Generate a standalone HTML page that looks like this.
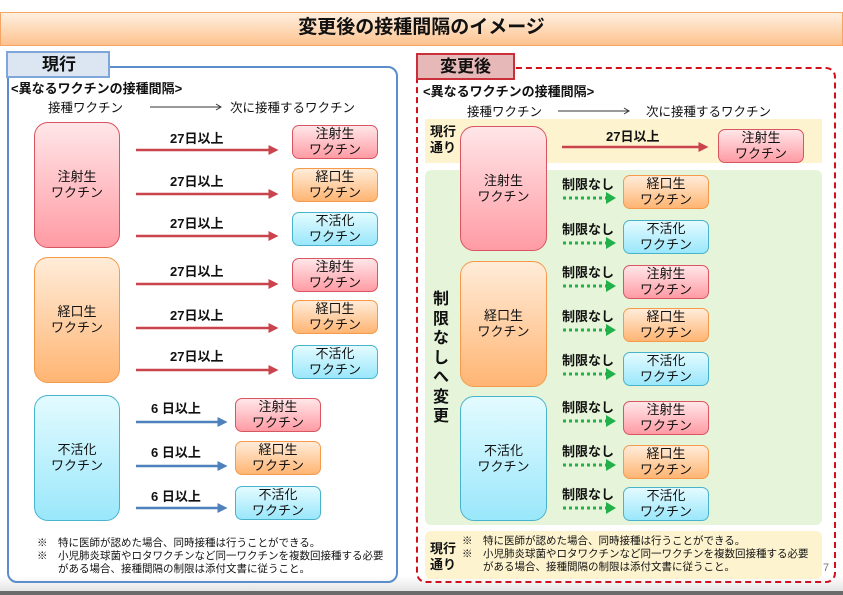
<!DOCTYPE html>
<html><head><meta charset="utf-8"><style>
*{margin:0;padding:0;box-sizing:border-box}
body{width:843px;height:595px;overflow:hidden;background:#fff;position:relative;font-family:"Liberation Sans","Noto Sans CJK JP",sans-serif;color:#111}
.a{position:absolute}
.b{position:absolute;display:flex;align-items:center;justify-content:center;text-align:center;font-size:13px;line-height:16px;border-radius:7px;border:1px solid}
.big{border-radius:14px}
.pk{background:linear-gradient(#ffe6e8,#ff9ba4);border-color:#d9555f}
.or{background:linear-gradient(#ffecd9,#ffb573);border-color:#f59a4a}
.bl{background:linear-gradient(#e3fbff,#9ae7fb);border-color:#4ab3cc}
.lb{position:absolute;font-weight:bold;font-size:13px;line-height:15px;white-space:nowrap}
.t{position:absolute;font-size:12px;white-space:nowrap}
</style></head><body>
<div class="a" style="left:0;top:576px;width:843px;height:15px;background:linear-gradient(#fff,#e4e4e4)"></div>
<div class="a" style="left:0;top:591px;width:843px;height:4px;background:#6b6b6b"></div>
<div class="a" style="left:0;top:12px;width:843px;height:34px;background:linear-gradient(#fff0e0,#fdc28e);border:1px solid #f5a463"></div>
<div class="a" style="left:0;top:14px;width:843px;text-align:center;font-size:19px;font-weight:bold;line-height:28px">変更後の接種間隔のイメージ</div>

<!-- left panel -->
<div class="a" style="left:7px;top:66px;width:391px;height:517px;border:2px solid #5b8ccc;border-radius:10px"></div>
<div class="a" style="left:6px;top:51px;width:104px;height:27px;background:#dce6f2;border:2px solid #7ea6d8;font-size:17px;font-weight:bold;line-height:23px;padding-left:34px">現行</div>
<div class="lb" style="left:11px;top:81px">&lt;異なるワクチンの接種間隔&gt;</div>
<div class="t" style="left:48px;top:97px;font-size:12.5px">接種ワクチン</div>
<div class="t" style="left:230px;top:97px;font-size:12.5px">次に接種するワクチン</div>

<div class="b pk big" style="left:34px;top:122px;width:86px;height:126px">注射生<br>ワクチン</div>
<div class="b or big" style="left:34px;top:257px;width:86px;height:126px">経口生<br>ワクチン</div>
<div class="b bl big" style="left:34px;top:395px;width:86px;height:126px">不活化<br>ワクチン</div>

<div class="b pk" style="left:292px;top:125px;width:86px;height:34px">注射生<br>ワクチン</div>
<div class="b or" style="left:292px;top:168px;width:86px;height:34px">経口生<br>ワクチン</div>
<div class="b bl" style="left:292px;top:212px;width:86px;height:34px">不活化<br>ワクチン</div>
<div class="b pk" style="left:292px;top:258px;width:86px;height:34px">注射生<br>ワクチン</div>
<div class="b or" style="left:292px;top:300px;width:86px;height:34px">経口生<br>ワクチン</div>
<div class="b bl" style="left:292px;top:345px;width:86px;height:34px">不活化<br>ワクチン</div>
<div class="b pk" style="left:235px;top:398px;width:86px;height:34px">注射生<br>ワクチン</div>
<div class="b or" style="left:235px;top:441px;width:86px;height:34px">経口生<br>ワクチン</div>
<div class="b bl" style="left:235px;top:486px;width:86px;height:34px">不活化<br>ワクチン</div>

<div class="lb" style="left:170px;top:131px">27日以上</div>
<div class="lb" style="left:170px;top:174px">27日以上</div>
<div class="lb" style="left:170px;top:216px">27日以上</div>
<div class="lb" style="left:170px;top:264px">27日以上</div>
<div class="lb" style="left:170px;top:308px">27日以上</div>
<div class="lb" style="left:170px;top:349px">27日以上</div>
<div class="lb" style="left:151px;top:401px">6 日以上</div>
<div class="lb" style="left:151px;top:445px">6 日以上</div>
<div class="lb" style="left:151px;top:489px">6 日以上</div>

<div class="t" style="left:37px;top:537px;font-size:10.5px;line-height:13px">※　特に医師が認めた場合、同時接種は行うことができる。<br>※　小児肺炎球菌やロタワクチンなど同一ワクチンを複数回接種する必要<br>　　がある場合、接種間隔の制限は添付文書に従うこと。</div>

<!-- right panel -->
<div class="a" style="left:416px;top:67px;width:420px;height:516px;border:2px dashed #d0101a;border-radius:10px"></div>
<div class="a" style="left:425px;top:119px;width:397px;height:44px;background:#fdf3cf"></div>
<div class="a" style="left:425px;top:170px;width:397px;height:355px;background:#e6f5d9;border-radius:6px"></div>
<div class="a" style="left:425px;top:531px;width:397px;height:48px;background:#fdf3cf;border-radius:6px"></div>
<div class="a" style="left:416px;top:53px;width:99px;height:27px;background:#e6b8b7;border:2px solid #c9303a;font-size:17px;font-weight:bold;line-height:23px;padding-left:22px">変更後</div>
<div class="lb" style="left:423px;top:84px">&lt;異なるワクチンの接種間隔&gt;</div>
<div class="t" style="left:467px;top:101px;font-size:12.5px">接種ワクチン</div>
<div class="t" style="left:646px;top:101px;font-size:12.5px">次に接種するワクチン</div>
<div class="lb" style="left:430px;top:124px;line-height:16px">現行<br>通り</div>
<div class="lb" style="left:430px;top:541px;line-height:16px">現行<br>通り</div>
<div class="lb" style="left:433px;top:290px;font-size:16px;line-height:19.5px;width:18px;white-space:normal">制限なしへ変更</div>

<div class="b pk big" style="left:460px;top:126px;width:87px;height:125px">注射生<br>ワクチン</div>
<div class="b or big" style="left:460px;top:261px;width:87px;height:126px">経口生<br>ワクチン</div>
<div class="b bl big" style="left:460px;top:396px;width:87px;height:125px">不活化<br>ワクチン</div>

<div class="b pk" style="left:718px;top:129px;width:86px;height:34px">注射生<br>ワクチン</div>
<div class="lb" style="left:606px;top:129px">27日以上</div>

<div class="b or" style="left:623px;top:175px;width:86px;height:34px">経口生<br>ワクチン</div>
<div class="b bl" style="left:623px;top:220px;width:86px;height:34px">不活化<br>ワクチン</div>
<div class="b pk" style="left:623px;top:265px;width:86px;height:34px">注射生<br>ワクチン</div>
<div class="b or" style="left:623px;top:308px;width:86px;height:34px">経口生<br>ワクチン</div>
<div class="b bl" style="left:623px;top:352px;width:86px;height:34px">不活化<br>ワクチン</div>
<div class="b pk" style="left:623px;top:401px;width:86px;height:34px">注射生<br>ワクチン</div>
<div class="b or" style="left:623px;top:445px;width:86px;height:34px">経口生<br>ワクチン</div>
<div class="b bl" style="left:623px;top:487px;width:86px;height:34px">不活化<br>ワクチン</div>

<div class="lb" style="left:562px;top:177px">制限なし</div>
<div class="lb" style="left:562px;top:222px">制限なし</div>
<div class="lb" style="left:562px;top:265px">制限なし</div>
<div class="lb" style="left:562px;top:309px">制限なし</div>
<div class="lb" style="left:562px;top:353px">制限なし</div>
<div class="lb" style="left:562px;top:400px">制限なし</div>
<div class="lb" style="left:562px;top:444px">制限なし</div>
<div class="lb" style="left:562px;top:487px">制限なし</div>

<div class="t" style="left:462px;top:535px;font-size:10.5px;line-height:13px">※　特に医師が認めた場合、同時接種は行うことができる。<br>※　小児肺炎球菌やロタワクチンなど同一ワクチンを複数回接種する必要<br>　　がある場合、接種間隔の制限は添付文書に従うこと。</div>
<div class="t" style="left:823px;top:562px;font-size:11px;color:#777">7</div>

<svg class="a" style="left:0;top:0" width="843" height="595">
<defs>
<marker id="r" markerWidth="4" markerHeight="4" refX="3" refY="2" orient="auto"><path d="M0,0L4,2L0,4z" fill="#c9444c"/></marker>
<marker id="u" markerWidth="4" markerHeight="4" refX="3" refY="2" orient="auto"><path d="M0,0L4,2L0,4z" fill="#4f81bd"/></marker>
</defs>
<g stroke="#333" stroke-width="1" fill="none">
<path d="M150 107H220M216 104L221 107L216 110"/>
<path d="M558 111H628M624 108L629 111L624 114"/>
</g>
<g stroke="#c9444c" stroke-width="2.5" marker-end="url(#r)">
<line x1="136" y1="150" x2="276" y2="150"/><line x1="136" y1="194" x2="276" y2="194"/><line x1="136" y1="236" x2="276" y2="236"/>
<line x1="136" y1="284" x2="276" y2="284"/><line x1="136" y1="328" x2="276" y2="328"/><line x1="136" y1="370" x2="276" y2="370"/>
<line x1="562" y1="147" x2="706" y2="147"/>
</g>
<g stroke="#4f81bd" stroke-width="2.5" marker-end="url(#u)">
<line x1="136" y1="422" x2="225" y2="422"/><line x1="136" y1="466" x2="225" y2="466"/><line x1="136" y1="508" x2="225" y2="508"/>
</g>
<g stroke="#22b04a" stroke-width="3" stroke-dasharray="3,3">
<line x1="563" y1="198" x2="607" y2="198"/><line x1="563" y1="243" x2="607" y2="243"/><line x1="563" y1="286" x2="607" y2="286"/><line x1="563" y1="330" x2="607" y2="330"/><line x1="563" y1="374" x2="607" y2="374"/><line x1="563" y1="421" x2="607" y2="421"/><line x1="563" y1="465" x2="607" y2="465"/><line x1="563" y1="508" x2="607" y2="508"/>
</g>
<g fill="#22b04a">
<path d="M606 192L616 198L606 204z"/><path d="M606 237L616 243L606 249z"/><path d="M606 280L616 286L606 292z"/><path d="M606 324L616 330L606 336z"/><path d="M606 368L616 374L606 380z"/><path d="M606 415L616 421L606 427z"/><path d="M606 459L616 465L606 471z"/><path d="M606 502L616 508L606 514z"/>
</g>
</svg>
</body></html>
